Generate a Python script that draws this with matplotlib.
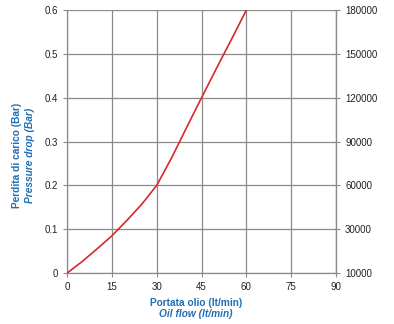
import matplotlib
matplotlib.use("Agg")
import matplotlib.pyplot as plt

plt.rcParams['font.family'] = ['Liberation Sans', 'DejaVu Sans']

flow = [0, 5, 10, 15, 20, 25, 30, 35, 40, 45, 50, 55, 60]
drop = [0, 0.026, 0.055, 0.085, 0.12, 0.157, 0.2, 0.263, 0.332, 0.4, 0.467, 0.533, 0.6]

x_ticks = [0, 15, 30, 45, 60, 75, 90]
y_ticks = [0, 0.1, 0.2, 0.3, 0.4, 0.5, 0.6]
y_labels = ['0', '0.1', '0.2', '0.3', '0.4', '0.5', '0.6']
right_labels = ['10000', '30000', '60000', '90000', '120000', '150000', '180000']

blue = '#1f6fb4'
grid_col = '#8a8a8a'

fig = plt.figure(figsize=(3.94, 3.24), dpi=100)
ax = fig.add_axes([0.170, 0.157, 0.683, 0.812])

ax.plot(flow, drop, color='#d9262e', linewidth=1.2, zorder=3)

ax.set_xlim(0, 90)
ax.set_ylim(0, 0.6)
ax.set_xticks(x_ticks)
ax.set_yticks(y_ticks)
ax.set_yticklabels(y_labels)
ax.grid(True, color=grid_col, linewidth=0.9)
for s in ax.spines.values():
    s.set_color(grid_col)
    s.set_linewidth(0.9)
ax.spines['top'].set_visible(False)
ax.tick_params(axis='both', labelsize=7, direction='out', length=3, colors='#222222')
ax.tick_params(axis='both', color=grid_col)

ax2 = ax.twinx()
ax2.set_ylim(0, 0.6)
ax2.set_yticks(y_ticks)
ax2.set_yticklabels(right_labels)
ax2.tick_params(axis='y', labelsize=7, direction='inout', length=6, color=grid_col, labelcolor='#222222')
for s in ax2.spines.values():
    s.set_visible(False)
ax2.spines['right'].set_visible(True)
ax2.spines['right'].set_color(grid_col)

fig.text(0.043, 0.52, 'Perdita di carico (Bar)', rotation=90, ha='center', va='center',
         fontsize=7.3, color=blue, fontweight='bold')
fig.text(0.077, 0.52, 'Pressure drop (Bar)', rotation=90, ha='center', va='center',
         fontsize=7.3, color=blue, fontweight='bold', style='italic')
fig.text(0.497, 0.066, 'Portata olio (lt/min)', ha='center', va='center',
         fontsize=7.3, color=blue, fontweight='bold')
fig.text(0.497, 0.030, 'Oil flow (lt/min)', ha='center', va='center',
         fontsize=7.3, color=blue, fontweight='bold', style='italic')

fig.savefig('out.png', dpi=100)
